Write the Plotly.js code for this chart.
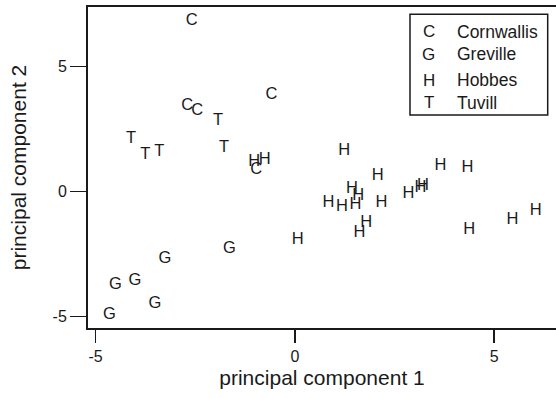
<!DOCTYPE html>
<html>
<head>
<meta charset="utf-8">
<script src="https://cdn.plot.ly/plotly-3.0.1.min.js"></script>
<style>html,body{margin:0;padding:0;background:#fff;}#chart{width:556px;height:398px;}</style>
</head>
<body>
<div id="chart"></div>
<script>
// Data
const groupCodes = ["C", "G", "H", "T"];
const groupNames = ["Cornwallis", "Greville", "Hobbes", "Tuvill"];

const cornwallisPC1 = [-2.59, -0.59, -2.70, -2.45, -0.97];
const cornwallisPC2 = [6.80, 3.87, 3.44, 3.24, 0.87];

const grevillePC1 = [-1.64, -3.26, -4.50, -4.01, -3.51, -4.65];
const grevillePC2 = [-2.27, -2.67, -3.74, -3.57, -4.47, -4.93];

const hobbesPC1 = [-1.02, -0.76, 1.24, 3.65, 4.33, 2.08, 1.43, 1.59, 3.15, 3.21, 2.85,
                   0.84, 1.18, 1.52, 2.17, 1.79, 1.62, 0.07, 4.37, 5.46, 6.04];
const hobbesPC2 = [1.20, 1.27, 1.62, 1.02, 0.94, 0.62, 0.10, -0.17, 0.14, 0.23, -0.10,
                   -0.45, -0.60, -0.53, -0.45, -1.24, -1.64, -1.92, -1.52, -1.12, -0.79];

const tuvillPC1 = [-4.11, -3.75, -3.40, -1.93, -1.78];
const tuvillPC2 = [2.11, 1.45, 1.58, 2.84, 1.75];

const tickVals = [-5, 0, 5];
const tickText = ["-5", "0", "5"];

const xTitle = "principal component 1";
const yTitle = "principal component 2";

const FONT = "Liberation Sans, Arial, Helvetica, sans-serif";
const INK = "#1a1a1a";

const xs = [cornwallisPC1, grevillePC1, hobbesPC1, tuvillPC1];
const ys = [cornwallisPC2, grevillePC2, hobbesPC2, tuvillPC2];

const traces = groupCodes.map((code, i) => ({
  type: "scatter",
  mode: "text",
  x: xs[i],
  y: ys[i],
  text: xs[i].map(() => code),
  textposition: "middle center",
  textfont: {family: FONT, size: 16.5, color: INK},
  name: groupNames[i],
  showlegend: false,
  hoverinfo: "x+y+name"
}));

// plot area in pixels
const W = 556, H = 398;
const M = {l: 88, r: 0, t: 7, b: 70};
const pw = W - M.l - M.r, ph = H - M.t - M.b;
const px = x => (x - M.l) / pw;
const py = y => (H - M.b - y) / ph;

const annotations = [];
const rowY = [31.7, 54.3, 80, 102.7];
groupCodes.forEach((code, i) => {
  annotations.push({xref: "paper", yref: "paper", x: px(428.5), y: py(rowY[i]),
    xanchor: "center", yanchor: "middle", text: code, showarrow: false,
    font: {family: FONT, size: 17, color: INK}});
  annotations.push({xref: "paper", yref: "paper", x: px(455), y: py(rowY[i]),
    xanchor: "left", yanchor: "middle", text: groupNames[i], showarrow: false,
    font: {family: FONT, size: 17.5, color: INK}});
});

const layout = {
  width: W, height: H,
  margin: M,
  paper_bgcolor: "#fff", plot_bgcolor: "#fff",
  font: {family: FONT, color: INK},
  showlegend: false,
  xaxis: {
    range: [-5.19, 6.55],
    tickvals: tickVals, ticktext: tickText,
    ticks: "outside", ticklen: 13, tickwidth: 1.5, tickcolor: INK,
    showline: true, mirror: true, linewidth: 2, linecolor: INK,
    showgrid: false, zeroline: false,
    tickfont: {family: FONT, size: 16, color: INK},
    title: {text: xTitle, font: {family: FONT, size: 21, color: INK}, standoff: 6}
  },
  yaxis: {
    range: [-5.45, 7.37],
    tickvals: tickVals, ticktext: tickText,
    ticks: "outside", ticklen: 16, tickwidth: 1.5, tickcolor: INK,
    showline: true, mirror: false, linewidth: 2, linecolor: INK,
    showgrid: false, zeroline: false,
    tickfont: {family: FONT, size: 16, color: INK},
    title: {text: yTitle, font: {family: FONT, size: 21, color: INK}, standoff: 20}
  },
  shapes: [{type: "rect", xref: "paper", yref: "paper",
    x0: px(410), x1: px(547.7), y0: py(115), y1: py(14.3),
    line: {color: INK, width: 1.5}, fillcolor: "rgba(0,0,0,0)"}],
  annotations: annotations
};

Plotly.newPlot("chart", traces, layout, {displayModeBar: false, staticPlot: true});
</script>
</body>
</html>
